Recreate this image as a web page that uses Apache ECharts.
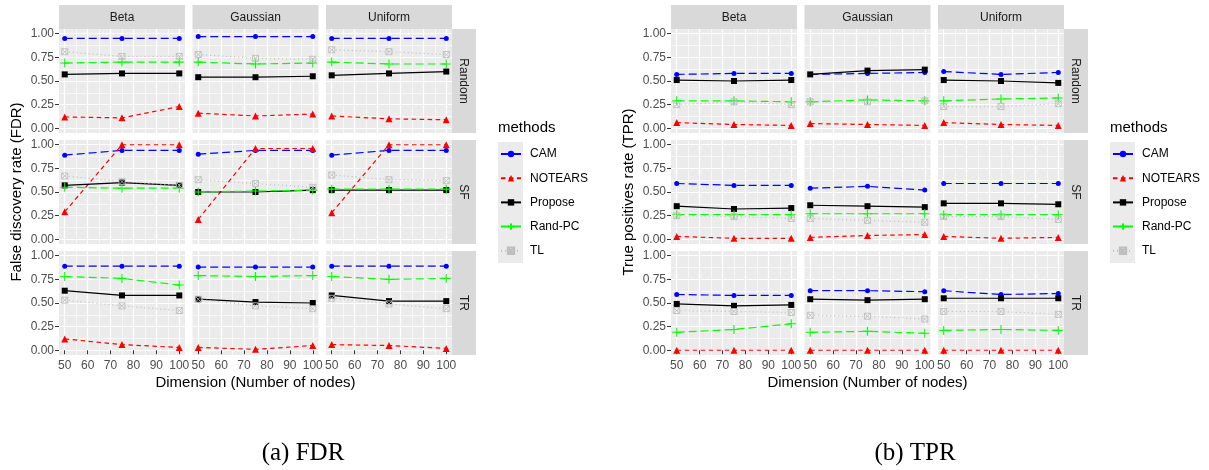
<!DOCTYPE html>
<html>
<head>
<meta charset="utf-8">
<script src="https://cdn.jsdelivr.net/npm/echarts@6/dist/echarts.min.js"></script>
<style>
html, body { margin: 0; padding: 0; background: #fff; }
#chart { width: 1209px; height: 470px; }
</style>
</head>
<body>
<div id="chart"></div>
<script>
var dims = [50, 75, 100];
var distributions = ['Beta', 'Gaussian', 'Uniform'];
var graphTypes = ['Random', 'SF', 'TR'];
var methods = ['CAM', 'NOTEARS', 'Propose', 'Rand-PC', 'TL'];
var yTicks = [0, 0.25, 0.5, 0.75, 1];
var yMinor = [0.125, 0.375, 0.625, 0.875];
var xTicks = [50, 60, 70, 80, 90, 100];
var xMinor = [55, 65, 75, 85, 95];

// each array: Random (Beta, Gaussian, Uniform), SF (...), TR (...)
var fdrCAM = [
    [0.95, 0.95, 0.95], [0.97, 0.97, 0.97], [0.95, 0.95, 0.95],
    [0.89, 0.94, 0.94], [0.90, 0.94, 0.94], [0.89, 0.94, 0.94],
    [0.89, 0.89, 0.89], [0.88, 0.88, 0.88], [0.89, 0.89, 0.89]
];
var fdrNOTEARS = [
    [0.12, 0.11, 0.23], [0.16, 0.13, 0.15], [0.13, 0.10, 0.09],
    [0.29, 1.00, 1.00], [0.21, 0.96, 0.96], [0.28, 1.00, 1.00],
    [0.12, 0.06, 0.03], [0.03, 0.01, 0.05], [0.06, 0.05, 0.02]
];
var fdrPropose = [
    [0.57, 0.58, 0.58], [0.54, 0.54, 0.55], [0.56, 0.58, 0.60],
    [0.57, 0.60, 0.57], [0.50, 0.50, 0.52], [0.52, 0.52, 0.52],
    [0.63, 0.58, 0.58], [0.54, 0.51, 0.50], [0.58, 0.52, 0.52]
];
var fdrRandPC = [
    [0.69, 0.70, 0.70], [0.70, 0.68, 0.69], [0.70, 0.68, 0.68],
    [0.55, 0.54, 0.54], [0.50, 0.51, 0.52], [0.53, 0.53, 0.53],
    [0.78, 0.76, 0.69], [0.79, 0.78, 0.79], [0.78, 0.75, 0.76]
];
var fdrTL = [
    [0.81, 0.76, 0.76], [0.78, 0.74, 0.73], [0.83, 0.81, 0.78],
    [0.67, 0.61, 0.57], [0.63, 0.59, 0.55], [0.68, 0.63, 0.62],
    [0.53, 0.47, 0.42], [0.54, 0.47, 0.44], [0.55, 0.49, 0.44]
];

var tprCAM = [
    [0.57, 0.58, 0.58], [0.57, 0.58, 0.59], [0.60, 0.57, 0.59],
    [0.59, 0.57, 0.57], [0.54, 0.56, 0.52], [0.59, 0.59, 0.59],
    [0.59, 0.58, 0.58], [0.63, 0.63, 0.62], [0.63, 0.59, 0.60]
];
var tprNOTEARS = [
    [0.06, 0.04, 0.03], [0.05, 0.04, 0.03], [0.06, 0.04, 0.03],
    [0.03, 0.01, 0.01], [0.02, 0.04, 0.05], [0.03, 0.01, 0.02],
    [0.00, 0.00, 0.00], [0.00, 0.00, 0.00], [0.00, 0.00, 0.00]
];
var tprPropose = [
    [0.51, 0.50, 0.51], [0.57, 0.61, 0.62], [0.51, 0.50, 0.48],
    [0.35, 0.32, 0.33], [0.36, 0.35, 0.34], [0.38, 0.38, 0.37],
    [0.49, 0.47, 0.48], [0.54, 0.53, 0.54], [0.55, 0.55, 0.55]
];
var tprRandPC = [
    [0.29, 0.29, 0.28], [0.28, 0.30, 0.29], [0.29, 0.31, 0.32],
    [0.26, 0.26, 0.26], [0.27, 0.27, 0.27], [0.26, 0.26, 0.26],
    [0.19, 0.22, 0.28], [0.19, 0.20, 0.18], [0.21, 0.22, 0.21]
];
var tprTL = [
    [0.25, 0.28, 0.25], [0.28, 0.28, 0.29], [0.23, 0.23, 0.26],
    [0.25, 0.24, 0.22], [0.22, 0.20, 0.18], [0.24, 0.24, 0.21],
    [0.42, 0.41, 0.40], [0.37, 0.36, 0.33], [0.41, 0.41, 0.38]
];

var methodStyle = {
    'CAM': { color: '#0000FF', symbol: 'circle', size: 5, dash: [8, 4] },
    'NOTEARS': { color: '#FF0000', symbol: 'triangle', size: 7, dash: [4.5, 3.5] },
    'Propose': { color: '#000000', symbol: 'rect', size: 6, dash: 'solid' },
    'Rand-PC': { color: '#00FF00', symbol: 'path://M5,0L5,10M0,5L10,5', size: 9, dash: [8, 4], stroke: 1.1 },
    'TL': { color: '#BEBEBE', symbol: 'path://M0,0L10,0L10,10L0,10ZM0,0L10,10M10,0L0,10', size: 6, dash: [1, 3], stroke: 0.9 }
};

var panels = [
    { left: 59, data: [fdrCAM, fdrNOTEARS, fdrPropose, fdrRandPC, fdrTL], yTitle: 'False discovery rate (FDR)', yTitleX: 17, caption: '(a) FDR', captionX: 303 },
    { left: 671, data: [tprCAM, tprNOTEARS, tprPropose, tprRandPC, tprTL], yTitle: 'True positives rate (TPR)', yTitleX: 629, caption: '(b) TPR', captionX: 915 }
];

var colStep = 133.5, colW = 126, rowTops = [29, 140, 251], rowH = 104, stripW = 24;
var font = 'Liberation Sans';

var grids = [], xAxes = [], yAxes = [], series = [], graphics = [], legends = [];

var makeAxis = function (g, isX, ticks, minor, showMain) {
    var min = isX ? 47.5 : -0.05, max = isX ? 102.5 : 1.05;
    var major = {
        type: 'value', gridIndex: g, min: min, max: max,
        axisLine: { show: false },
        axisTick: { show: showMain, customValues: ticks, length: 4, lineStyle: { color: '#333', width: 1 } },
        axisLabel: {
            show: showMain, customValues: ticks, color: '#4D4D4D', fontSize: 12, fontFamily: font, margin: 5,
            formatter: function (v) { return isX ? String(v) : v.toFixed(2); }
        },
        splitLine: { show: true, lineStyle: { color: '#FFFFFF', width: 1.2 } }
    };
    var thin = {
        type: 'value', gridIndex: g, min: min, max: max,
        axisLine: { show: false },
        axisTick: { show: false, customValues: minor },
        axisLabel: { show: false, customValues: minor },
        splitLine: { show: true, lineStyle: { color: '#FFFFFF', width: 0.6 } }
    };
    return [major, thin];
};

panels.forEach(function (p) {
    graphTypes.forEach(function (gt, r) {
        distributions.forEach(function (dist, c) {
            var g = grids.length;
            var left = p.left + c * colStep;
            grids.push({
                left: left, top: rowTops[r], width: colW, height: rowH,
                show: true, backgroundColor: '#EBEBEB', borderWidth: 0
            });
            var xa = makeAxis(g, true, xTicks, xMinor, r === 2);
            var ya = makeAxis(g, false, yTicks, yMinor, c === 0);
            var xi = xAxes.length, yi = yAxes.length;
            xAxes.push(xa[0], xa[1]);
            yAxes.push(ya[0], ya[1]);
            methods.forEach(function (m, k) {
                var st = methodStyle[m];
                var vals = p.data[k][r * 3 + c];
                series.push({
                    type: 'line', name: m,
                    xAxisIndex: xi, yAxisIndex: yi,
                    data: dims.map(function (d, i) { return [d, vals[i]]; }),
                    symbol: st.symbol, symbolSize: st.size,
                    showAllSymbol: true, clip: false, animation: false,
                    lineStyle: { color: st.color, width: 1.2, type: st.dash },
                    itemStyle: st.stroke
                        ? { color: 'rgba(0,0,0,0)', borderColor: st.color, borderWidth: st.stroke }
                        : { color: st.color, borderWidth: 0 },
                    emphasis: { disabled: true }
                });
            });
            if (r === 0) {
                graphics.push({
                    type: 'rect', shape: { x: left, y: 5, width: colW, height: 24 },
                    style: { fill: '#D9D9D9' }, silent: true
                });
                graphics.push({
                    type: 'text', x: left + colW / 2, y: 17.5,
                    style: { text: dist, fill: '#1A1A1A', font: '12px "' + font + '"', align: 'center', verticalAlign: 'middle' }
                });
            }
        });
        var sx = p.left + 2 * colStep + colW;
        graphics.push({
            type: 'rect', shape: { x: sx, y: rowTops[r], width: stripW, height: rowH },
            style: { fill: '#D9D9D9' }, silent: true
        });
        graphics.push({
            type: 'text', x: sx + stripW / 2 - 0.5, y: rowTops[r] + rowH / 2, rotation: -Math.PI / 2,
            style: { text: gt, fill: '#1A1A1A', font: '12px "' + font + '"', align: 'center', verticalAlign: 'middle' }
        });
    });

    var panelsW = 2 * colStep + colW;
    var legendX = p.left + panelsW + stripW + 22;
    graphics.push({
        type: 'text', x: p.yTitleX, y: 192, rotation: Math.PI / 2,
        style: { text: p.yTitle, fill: '#000', font: '15px "' + font + '"', align: 'center', verticalAlign: 'middle' }
    });
    graphics.push({
        type: 'text', x: p.left + panelsW / 2, y: 383,
        style: { text: 'Dimension (Number of nodes)', fill: '#000', font: '15px "' + font + '"', align: 'center', verticalAlign: 'middle' }
    });
    graphics.push({
        type: 'text', x: p.captionX, y: 453,
        style: { text: p.caption, fill: '#000', font: '25px "Liberation Serif"', align: 'center', verticalAlign: 'middle' }
    });
    graphics.push({
        type: 'text', x: legendX, y: 128,
        style: { text: 'methods', fill: '#000', font: '15px "' + font + '"', align: 'left', verticalAlign: 'middle' }
    });
    graphics.push({
        type: 'rect', shape: { x: legendX, y: 142, width: 25, height: 121 },
        style: { fill: '#EBEBEB' }, silent: true, z: -1
    });
    legends.push({
        orient: 'vertical', left: legendX + 2, top: 147, padding: 0,
        itemWidth: 20, itemHeight: 8, itemGap: 10.2,
        selectedMode: false, data: methods,
        textStyle: { fontSize: 12, fontFamily: font, color: '#000', lineHeight: 14, padding: [0, 0, 0, 4] }
    });
});

var chart = echarts.init(document.getElementById('chart'));
chart.setOption({
    animation: false,
    grid: grids,
    xAxis: xAxes,
    yAxis: yAxes,
    legend: legends,
    graphic: graphics,
    series: series
});
</script>
</body>
</html>
